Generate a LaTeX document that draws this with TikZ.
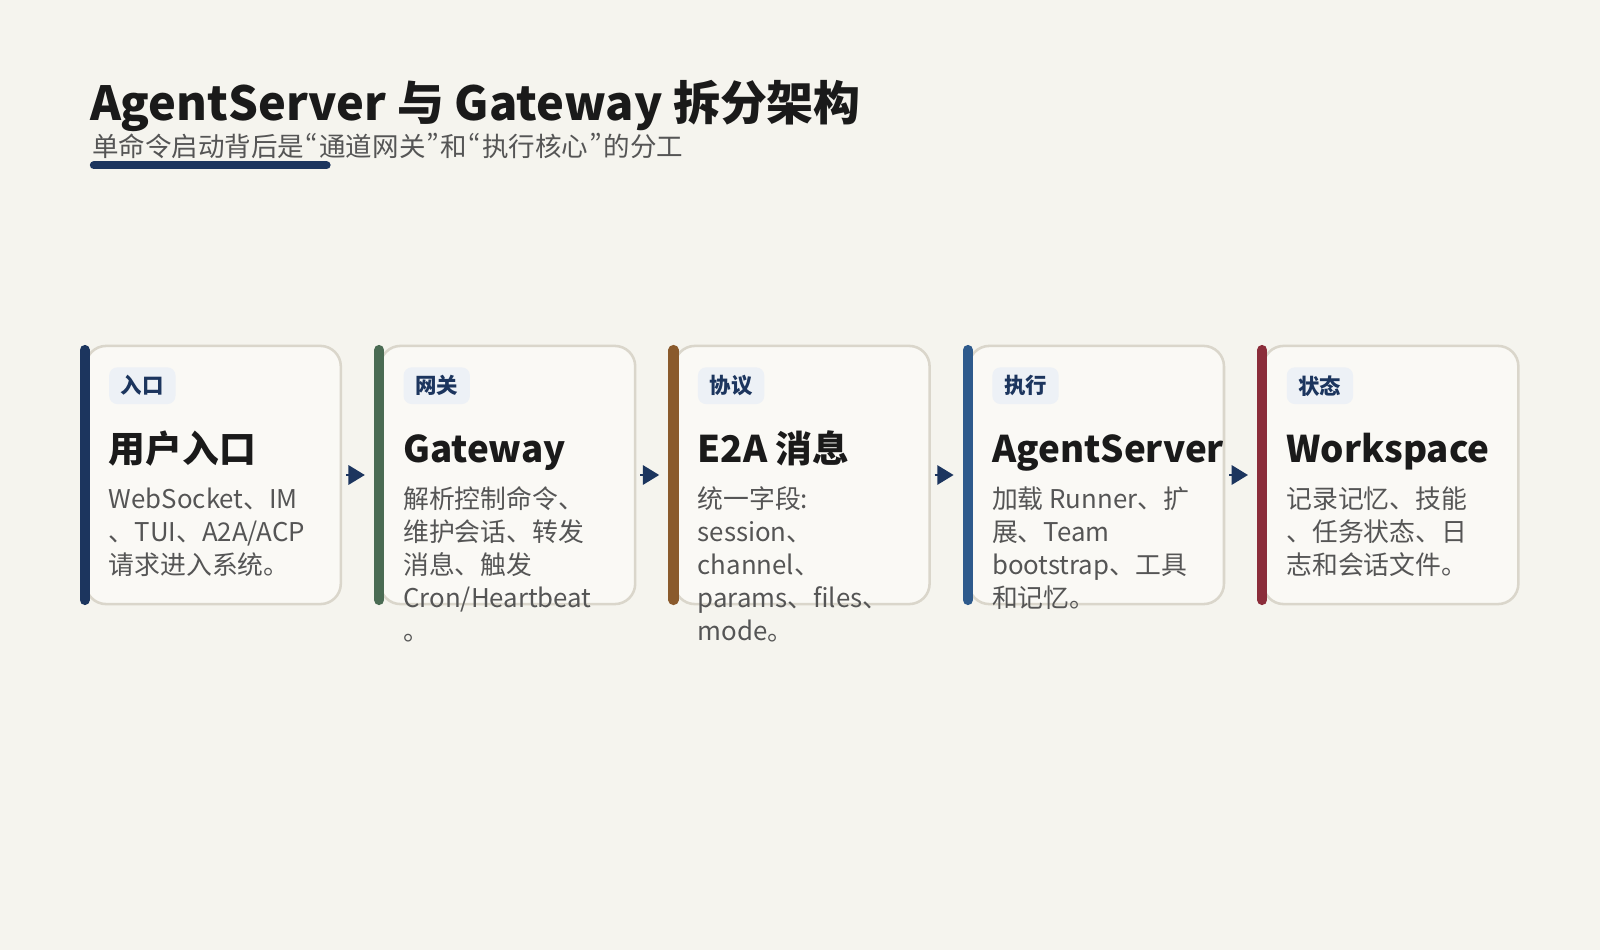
\documentclass[tikz,border=0pt]{standalone}
\usepackage{fontspec}
\setmainfont{Noto Sans CJK SC}
\newfontfamily\propq{Noto Sans CJK SC}[RawFeature=+pwid]
\newcommand\pq[1]{\kern1.25pt{\propq #1}\kern1.25pt}
\usetikzlibrary{arrows.meta}
\definecolor{bg}{HTML}{F5F4EE}
\definecolor{cardbg}{HTML}{FAF9F5}
\definecolor{cardborder}{HTML}{DAD6CB}
\definecolor{navy}{HTML}{1C355E}
\definecolor{tagbg}{HTML}{EDF1F6}
\definecolor{cgreen}{HTML}{4A6B53}
\definecolor{cbrown}{HTML}{8A5A2C}
\definecolor{cblue}{HTML}{2E5A8C}
\definecolor{cmaroon}{HTML}{8B2D3A}
\definecolor{ink}{HTML}{1A1A1A}
\definecolor{greytext}{HTML}{555555}
\newcommand\mkcard[5]{%
  \node[card] (#1) at ({#2+131},465.5) {};
  \draw[cardbar, #3] ({#2+5},343) -- ({#2+5},588);
  \node[tagbox] (#1-tag) at ({#2+61.5},378) {#4};
  \node[cardtitle] (#1-title) at ({#2+28.5},453) {#5};
}
\newcommand\mkdesc[3]{%
  \foreach \l [count=\k] in {#3} {
    \node[desc] (#1-d\k) at ({#2+28.5},{498+(\k-1)*32.4}) {\l};
  }
}
\begin{document}
\begin{tikzpicture}[x=1pt,y=-1pt,
  card/.style={draw=cardborder, line width=2.5pt, fill=cardbg, rounded corners=20pt,
    minimum width=250pt, minimum height=253pt, inner sep=0pt, outer sep=0pt},
  cardbar/.style={line width=10pt, line cap=round},
  tagbox/.style={fill=tagbg, rounded corners=8pt, minimum width=65pt, minimum height=36pt,
    inner sep=0pt, text=navy, font=\fontsize{21}{24}\selectfont\bfseries},
  cardtitle/.style={anchor=base west, inner sep=0pt, text=ink,
    font=\fontsize{36}{40}\selectfont\bfseries},
  desc/.style={anchor=base west, inner sep=0pt, text=greytext,
    font=\fontsize{25.3}{30}\selectfont},
  flow/.style={draw=navy, line width=2pt, -{Triangle[length=16pt,width=19pt]},
    shorten <=5pt, shorten >=15pt}
]
\useasboundingbox[fill=bg] (0,0) rectangle (1568,931);

\node[anchor=base west, inner sep=0pt, text=ink, font=\fontsize{46}{50}\selectfont\bfseries]
  (title) at (88,118) {AgentServer 与 Gateway 拆分架构};
\node[anchor=base west, inner sep=0pt, text=greytext, font=\fontsize{26}{30}\selectfont]
  (subtitle) at (90,153) {单命令启动背后是\pq{“}通道网关\pq{”}和\pq{“}执行核心\pq{”}的分工};
\coordinate (ul1) at (92,162);
\coordinate (ul2) at (320,162);
\draw[navy, line width=8pt, line cap=round] (ul1) -- (ul2);

\mkcard{c1}{78}{navy}{入口}{用户入口}
\mkdesc{c1}{78}{WebSocket、IM, 、TUI、A2A/ACP, 请求进入系统。}

\mkcard{c2}{366.5}{cgreen}{网关}{Gateway}
\mkdesc{c2}{366.5}{解析控制命令、, 维护会话、转发, 消息、触发, Cron/Heartbeat, 。}

\mkcard{c3}{655}{cbrown}{协议}{E2A 消息}
\mkdesc{c3}{655}{统一字段:, session、, channel、, params、files、, mode。}

\mkcard{c4}{943.5}{cblue}{执行}{AgentServer}
\mkdesc{c4}{943.5}{加载 Runner、扩, 展、Team, bootstrap、工具, 和记忆。}

\mkcard{c5}{1232}{cmaroon}{状态}{Workspace}
\mkdesc{c5}{1232}{记录记忆、技能, 、任务状态、日, 志和会话文件。}

\draw[flow] (c1.east) -- (c2.west);
\draw[flow] (c2.east) -- (c3.west);
\draw[flow] (c3.east) -- (c4.west);
\draw[flow] (c4.east) -- (c5.west);
\end{tikzpicture}
\end{document}
